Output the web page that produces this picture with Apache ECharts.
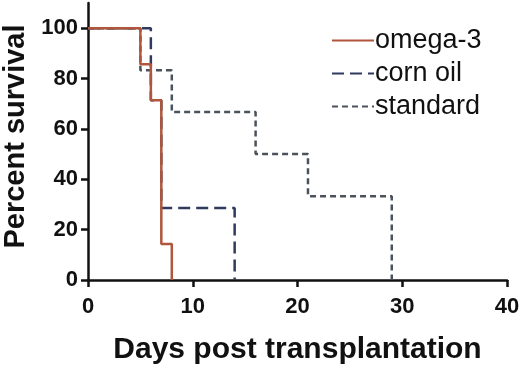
<!DOCTYPE html>
<html>
<head>
<meta charset="utf-8">
<script src="https://cdn.jsdelivr.net/npm/echarts@6/dist/echarts.min.js"></script>
<style>
 html, body { margin: 0; padding: 0; background: #fff; }
 #chartMain { width: 520px; height: 366px; }
</style>
</head>
<body>
<div id="chartMain"></div>
<script>
// survival steps: [day, percent]
var omega3 = [[0, 100], [5, 85.7], [6, 71.4], [7, 14.3], [8, 0]];
var cornOil = [[0, 100], [6, 71.4], [7, 28.6], [14, 0]];
var standard = [[0, 100], [5, 83.3], [8, 66.7], [16, 50], [21, 33.3], [29, 0]];
var yTicks = [0, 20, 40, 60, 80, 100];
var xTicks = [0, 10, 20, 30, 40];
var names = ['omega-3', 'corn oil', 'standard'];

var myChart = echarts.init(document.getElementById('chartMain'));
var font = 'Liberation Sans, Arial, sans-serif';

var option = {
	animation: false,
	grid: { left: 88, right: 13, top: 3, bottom: 86, outerBoundsMode: 'none' },
	legend: {
		data: names,
		orient: 'vertical',
		left: 326,
		top: 22,
		itemWidth: 42,
		itemHeight: 14,
		itemGap: 6,
		itemStyle: { opacity: 0 },
		textStyle: { fontFamily: font, fontSize: 27, color: '#111', lineHeight: 26, padding: [0, 0, 0, -4] }
	},
	xAxis: {
		type: 'value',
		min: 0,
		max: 40,
		interval: 10,
		name: 'Days post transplantation',
		nameLocation: 'middle',
		nameGap: 55,
		nameTextStyle: { fontFamily: font, fontSize: 30, fontWeight: 'bold', color: '#111' },
		splitLine: { show: false },
		axisLine: { lineStyle: { color: '#111', width: 2.5 } },
		axisTick: { length: 7, lineStyle: { color: '#111', width: 2.5 }, customValues: xTicks },
		axisLabel: { fontFamily: font, fontSize: 22, fontWeight: 'bold', color: '#111', margin: 16, customValues: xTicks }
	},
	yAxis: {
		type: 'value',
		min: 0,
		max: 110,
		name: 'Percent survival',
		nameLocation: 'middle',
		nameGap: 58,
		nameTextStyle: { fontFamily: font, fontSize: 29, fontWeight: 'bold', color: '#111', padding: [0, 0, 0, 10] },
		splitLine: { show: false },
		axisLine: { show: true, lineStyle: { color: '#111', width: 2.5 } },
		axisTick: { show: true, length: 7, lineStyle: { color: '#111', width: 2.5 }, customValues: yTicks },
		axisLabel: { fontFamily: font, fontSize: 22, fontWeight: 'bold', color: '#111', margin: 10, customValues: yTicks }
	},
	series: [
		{
			name: 'omega-3', type: 'line', step: 'end', data: omega3, symbol: 'none', z: 4,
			itemStyle: { color: '#b0563c' },
			lineStyle: { color: '#b0563c', width: 2.5 }
		},
		{
			name: 'corn oil', type: 'line', step: 'end', data: cornOil, symbol: 'none', z: 3,
			itemStyle: { color: '#2f3a5c' },
			lineStyle: { color: '#2f3a5c', width: 2.5, type: [12, 6] }
		},
		{
			name: 'standard', type: 'line', step: 'end', data: standard, symbol: 'none', z: 2,
			itemStyle: { color: '#4a525c' },
			lineStyle: { color: '#4a525c', width: 2.5, type: [6, 4] }
		}
	]
};

myChart.setOption(option);
</script>
</body>
</html>
